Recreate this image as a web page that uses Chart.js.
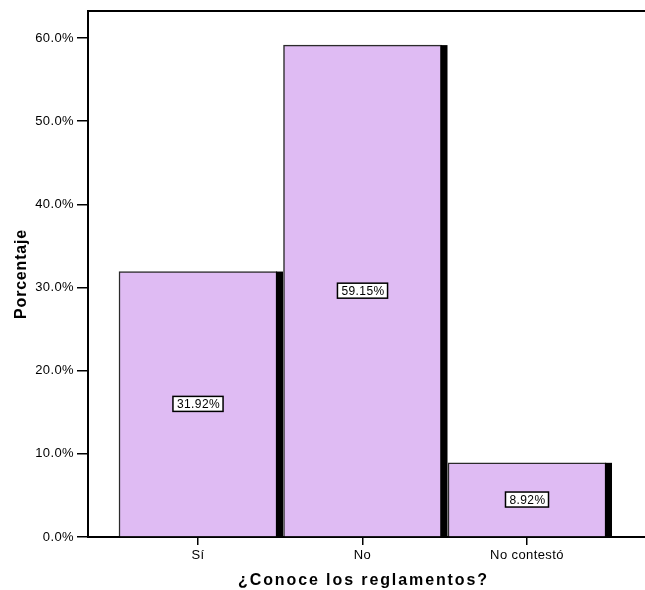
<!DOCTYPE html>
<html>
<head>
  <title>¿Conoce los reglamentos?</title>
  <script src="https://cdn.jsdelivr.net/npm/chart.js"></script>
  <style>
    body { margin: 0; background: #fff; }
    #wrap { width: 645px; height: 590px; }
  </style>
</head>
<body>
  <div id="wrap"><canvas id="myChart"></canvas></div>

  <script>
    const categories = ['Sí', 'No', 'No contestó'];
    const percentages = [31.92, 59.15, 8.92];
    const yTicks = [0, 10, 20, 30, 40, 50, 60];
    const xTitle = '¿Conoce los reglamentos?';
    const yTitle = 'Porcentaje';

    const FONT = "'Liberation Sans', Arial, sans-serif";

    // black drop shadow on the right of each bar + value boxes + axis titles
    const decorations = {
      id: 'decorations',
      beforeDraw(chart) {
        chart.ctx.letterSpacing = '0.4px';
      },
      afterDatasetsDraw(chart) {
        const ctx = chart.ctx;
        const meta = chart.getDatasetMeta(0);
        ctx.save();
        meta.data.forEach((bar, i) => {
          const half = bar.width / 2;
          ctx.fillStyle = '#000';
          ctx.fillRect(bar.x + half - 1, bar.y, 7, bar.base - bar.y);

          const txt = percentages[i].toFixed(2) + '%';
          ctx.font = '12px ' + FONT;
          ctx.letterSpacing = '0.4px';
          const w = ctx.measureText(txt).width + 7;
          const h = 15;
          const cy = (bar.y + bar.base) / 2;
          ctx.fillStyle = '#fff';
          ctx.fillRect(bar.x - w / 2, cy - h / 2, w, h);
          ctx.strokeStyle = '#000';
          ctx.lineWidth = 1.5;
          ctx.strokeRect(bar.x - w / 2, cy - h / 2, w, h);
          ctx.fillStyle = '#000';
          ctx.textAlign = 'center';
          ctx.textBaseline = 'middle';
          ctx.fillText(txt, bar.x + 0.5, cy + 1);
        });
        ctx.restore();
      },
      afterDraw(chart) {
        const ctx = chart.ctx;
        const a = chart.chartArea;
        ctx.save();
        // top frame line
        ctx.strokeStyle = '#000';
        ctx.lineWidth = 2;
        ctx.beginPath();
        ctx.moveTo(a.left - 1, a.top);
        ctx.lineTo(a.right, a.top);
        ctx.stroke();

        ctx.fillStyle = '#000';
        ctx.font = 'bold 16px ' + FONT;
        ctx.letterSpacing = '1.9px';
        ctx.textAlign = 'center';
        ctx.textBaseline = 'alphabetic';
        ctx.fillText(xTitle, (a.left + a.right) / 2 - 3, 585);

        ctx.letterSpacing = '0.8px';
        ctx.translate(26, (a.top + a.bottom) / 2);
        ctx.rotate(-Math.PI / 2);
        ctx.fillText(yTitle, 0, 0);
        ctx.restore();
      }
    };

    new Chart(document.getElementById('myChart'), {
      type: 'bar',
      data: {
        datasets: [{
          data: percentages.map((v, i) => ({ x: i + 1, y: v })),
          backgroundColor: '#dfbbf3',
          borderColor: '#2b2b2b',
          borderWidth: 1.5,
          borderSkipped: 'bottom',
          barThickness: 158
        }]
      },
      options: {
        responsive: true,
        maintainAspectRatio: false,
        animation: false,
        layout: { padding: { top: 11, right: 0, left: 0, bottom: 0 } },
        plugins: { legend: { display: false }, tooltip: { enabled: false } },
        scales: {
          x: {
            type: 'linear',
            offset: false,
            min: 0.3313,
            max: 3.7173,
            afterBuildTicks: s => { s.ticks = categories.map((c, i) => ({ value: i + 1 })); },
            afterFit: s => { s.height = 53; },
            ticks: {
              callback: v => categories[v - 1],
              color: '#000',
              font: { family: FONT, size: 13 },
              padding: 3,
              maxRotation: 0
            },
            grid: { offset: false, drawOnChartArea: false, tickLength: 8, color: '#000', lineWidth: 1.5 },
            border: { display: true, color: '#000', width: 2 }
          },
          y: {
            min: 0,
            max: 63.25,
            afterBuildTicks: s => { s.ticks = yTicks.map(v => ({ value: v })); },
            afterFit: s => { s.width = 88; },
            ticks: {
              callback: v => v.toFixed(1) + '%',
              color: '#000',
              font: { family: FONT, size: 13 },
              padding: 3
            },
            grid: { drawOnChartArea: false, tickLength: 11, color: '#000', lineWidth: 1.5 },
            border: { display: true, color: '#000', width: 2 }
          }
        }
      },
      plugins: [decorations]
    });
  </script>
</body>
</html>
